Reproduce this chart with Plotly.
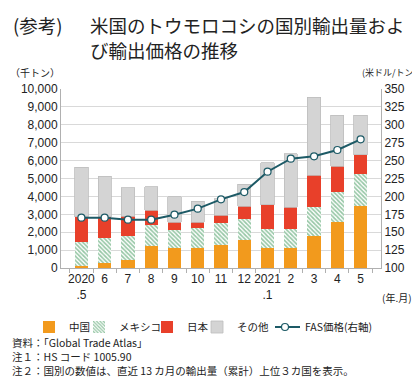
import plotly.graph_objects as go

months = ["2020<br>.5", "6", "7", "8", "9", "10", "11", "12", "2021<br>.1", "2", "3", "4", "5"]
china = [130, 280, 470, 1210, 1120, 1120, 1300, 1560, 1120, 1120, 1770, 2570, 3450]
mexico = [1320, 1400, 1300, 1210, 980, 1110, 1210, 1200, 1060, 1060, 1640, 1660, 1800]
japan = [1400, 1170, 1120, 800, 470, 340, 430, 690, 1360, 1210, 1770, 1450, 1080]
other = [2790, 2270, 1580, 1320, 1400, 1150, 940, 1240, 2330, 2980, 4350, 2850, 2200]
fas_price = [170.3, 170.3, 167.5, 167.5, 174.5, 182.9, 195.9, 206.1, 234.5, 252.7, 256.0, 264.8, 279.7]

FONT = "Noto Sans CJK JP"

fig = go.Figure()
fig.add_trace(go.Bar(x=months, y=china, name="中国", legend="legend",
                     marker=dict(color="#f29a1d", line=dict(width=0))))
fig.add_trace(go.Bar(x=months, y=mexico, name="メキシコ", legend="legend2",
                     marker=dict(color="white", line=dict(width=0),
                                 pattern=dict(shape="\\", fgcolor="#2f8f4e", bgcolor="white", size=3, solidity=0.55))))
fig.add_trace(go.Bar(x=months, y=japan, name="日本", legend="legend3",
                     marker=dict(color="#e8402a", line=dict(width=0))))
fig.add_trace(go.Bar(x=months, y=other, name="その他", legend="legend4",
                     marker=dict(color="#d4d4d4", line=dict(color="#bdbdbd", width=0.8))))
fig.add_trace(go.Scatter(x=months, y=fas_price, name="FAS価格(右軸)", yaxis="y2", mode="lines+markers",
                         legend="legend5",
                         line=dict(color="#1d5a66", width=2),
                         marker=dict(symbol="circle", size=7, color="white", line=dict(color="#1d5a66", width=1.2))))

def px_x(p):
    return (p - 53) / 320

def px_y(p):
    return (260 - p) / 179

def leg(text_start):
    return dict(orientation="h", x=px_x(text_start - 36), xanchor="left", y=px_y(319), yanchor="middle",
                font=dict(size=10.5, family=FONT), itemwidth=30, indentation=-10,
                bgcolor="rgba(0,0,0,0)")

fig.update_layout(
    width=420, height=379,
    margin=dict(l=53, r=47, t=81, b=119),
    barmode="stack", bargap=0.43,
    plot_bgcolor="white", paper_bgcolor="white",
    font=dict(family=FONT, size=12, color="#222"),
    showlegend=True,
    legend=leg(67),
    legend2=leg(117),
    legend3=leg(185),
    legend4=leg(235),
    legend5=leg(303),
    xaxis=dict(type="category", showline=True, linecolor="#b0b0b0", linewidth=1,
               ticks="outside", tickson="boundaries", ticklen=4, tickcolor="#b0b0b0",
               tickangle=0,
               tickfont=dict(size=12, family="Liberation Sans"), showgrid=False),
    yaxis=dict(range=[0, 10000], dtick=1000, tickformat=",", showgrid=True, gridcolor="#d9d9d9",
               showline=True, linecolor="#b0b0b0", zeroline=False,
               tickfont=dict(size=12, family="Liberation Sans")),
    yaxis2=dict(range=[100, 350], dtick=25, overlaying="y", side="right", showgrid=False,
                showline=True, linecolor="#b0b0b0", zeroline=False,
                tickfont=dict(size=12, family="Liberation Sans")),
)

annos = [
    dict(text="(参考)", x=px_x(3), y=px_y(17), size=18.5, xanchor="left"),
    dict(text="米国のトウモロコシの国別輸出量およ", x=px_x(80), y=px_y(17), size=18.5, xanchor="left"),
    dict(text="び輸出価格の推移", x=px_x(80), y=px_y(42), size=18.5, xanchor="left"),
    dict(text="（千トン）", x=px_x(0), y=px_y(64), size=10, xanchor="left"),
    dict(text="(米ドル/トン)", x=px_x(352), y=px_y(64), size=9, xanchor="left"),
    dict(text="(年.月)", x=px_x(372), y=px_y(289), size=10, xanchor="left"),
    dict(text="資料：「Global Trade Atlas」", x=px_x(2), y=px_y(334), size=10.5, xanchor="left"),
    dict(text="注１：HS コード 1005.90", x=px_x(2), y=px_y(348), size=10.5, xanchor="left"),
    dict(text="注２：国別の数値は、直近 13 カ月の輸出量（累計）上位３カ国を表示。", x=px_x(2), y=px_y(362), size=10.5, xanchor="left"),
]
for a in annos:
    fig.add_annotation(text=a["text"], x=a["x"], y=a["y"], xref="paper", yref="paper",
                       xanchor=a["xanchor"], yanchor="middle", showarrow=False,
                       font=dict(size=a["size"], family=FONT, color="#222"))

fig.write_html("out.html")
